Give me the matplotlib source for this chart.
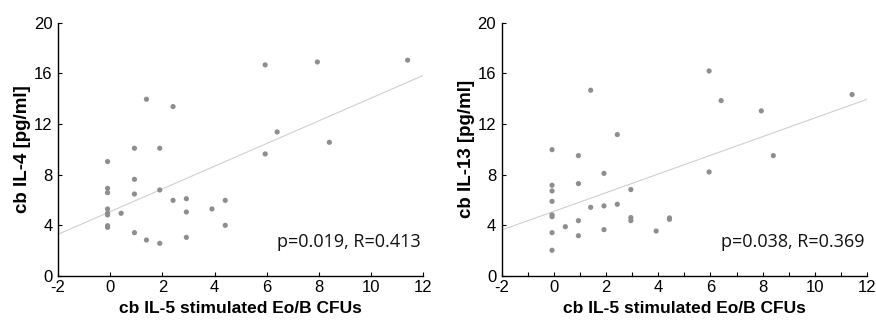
import numpy as np
import matplotlib
matplotlib.use("Agg")
import matplotlib.pyplot as plt

# cb IL-5 stimulated Eo/B CFUs vs cb IL-4
x_il4 = [-0.1, -0.1, -0.1, -0.1, -0.1, -0.1, -0.1, -0.1, 0.42, 0.93, 0.93, 0.93, 0.93,
         1.39, 1.39, 1.9, 1.9, 1.9, 2.41, 2.41, 2.92, 2.92, 2.92, 3.9, 4.41, 4.41,
         5.94, 5.94, 6.4, 7.94, 8.4, 11.4]
y_il4 = [9.03, 6.92, 6.58, 5.29, 4.95, 4.82, 3.97, 3.84, 4.95, 10.08, 7.63, 6.47, 3.42,
         13.95, 2.84, 10.08, 6.79, 2.58, 13.37, 5.97, 6.1, 5.05, 3.05, 5.29, 5.97, 4.0,
         16.66, 9.63, 11.37, 16.89, 10.55, 17.03]

# cb IL-5 stimulated Eo/B CFUs vs cb IL-13
x_il13 = [-0.07, -0.07, -0.07, -0.07, -0.07, -0.07, -0.07, -0.07, 0.44, 0.94, 0.94, 0.94,
          0.94, 1.41, 1.41, 1.92, 1.92, 1.92, 2.43, 2.43, 2.95, 2.95, 2.95, 3.92, 4.43,
          4.43, 5.95, 5.95, 6.41, 7.95, 8.41, 11.43]
y_il13 = [9.97, 7.16, 6.71, 5.89, 4.82, 4.68, 3.42, 2.03, 3.89, 9.5, 7.29, 4.37, 3.18,
          14.66, 5.42, 8.1, 5.53, 3.66, 11.16, 5.66, 6.82, 4.61, 4.37, 3.55, 4.58, 4.47,
          16.18, 8.21, 13.84, 13.03, 9.5, 14.32]

# regression lines (intercept, slope)
fit_il4 = (5.08, 0.896)
fit_il13 = (5.10, 0.737)

stats_il4 = "p=0.019, R=0.413"
stats_il13 = "p=0.038, R=0.369"

plt.rcParams['font.family'] = ['Liberation Sans', 'DejaVu Sans']
plt.rcParams['axes.unicode_minus'] = False

fig = plt.figure(figsize=(8.76, 3.2), dpi=100)
ax1 = fig.add_axes([0.0662, 0.1375, 0.417, 0.792])
ax2 = fig.add_axes([0.5727, 0.1375, 0.417, 0.792])

panels = [(ax1, x_il4, y_il4, fit_il4, stats_il4, "cb IL-4 [pg/ml]", 2),
          (ax2, x_il13, y_il13, fit_il13, stats_il13, "cb IL-13 [pg/ml]", 1)]

for ax, xs, ys, fit, txt, ylab, xstep in panels:
    xl = np.array([-2, 12])
    ax.plot(xl, fit[0] + fit[1] * xl, color="#cfcfcf", lw=0.8, zorder=1)
    ax.scatter(xs, ys, s=14, color="#8e8e8e", edgecolors="none", zorder=2)
    ax.set_xlim(-2, 12)
    ax.set_ylim(0, 20)
    ax.set_yticks(np.arange(0, 21, 4))
    ax.set_xticks(np.arange(-2, 13, 2))
    if xstep == 1:
        ax.set_xticks(np.arange(-2, 13, 1), minor=True)
    ax.tick_params(direction="in", length=3, width=0.8, labelsize=12)
    ax.tick_params(axis="y", pad=4)
    ax.tick_params(axis="x", pad=3)
    ax.tick_params(which="minor", direction="in", length=3, width=0.8)
    for s in ["top", "right"]:
        ax.spines[s].set_visible(False)
    for s in ["left", "bottom"]:
        ax.spines[s].set_linewidth(1.0)
    ax.set_ylabel(ylab, fontsize=13.5, fontweight="bold", labelpad=2)
    ax.set_xlabel("cb IL-5 stimulated Eo/B CFUs", fontsize=12.5, fontweight="bold", labelpad=4)
    ax.text(11.9, 2.7, txt, ha="right", va="center", fontsize=13,
            family=["Open Sans", "DejaVu Sans"], color="#111111")

fig.savefig("out.png", dpi=100)
